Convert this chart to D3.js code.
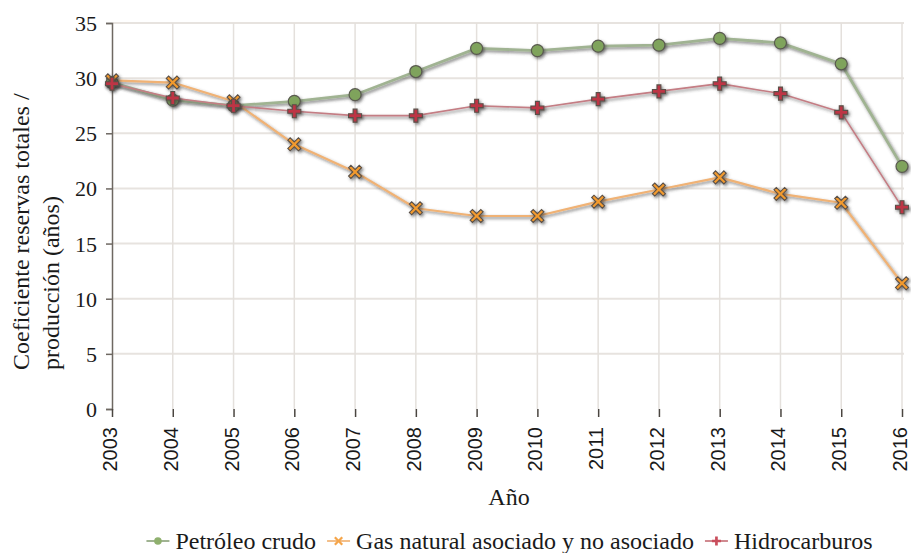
<!DOCTYPE html>
<html>
<head>
<meta charset="utf-8">
<script src="https://cdn.jsdelivr.net/npm/d3@7"></script>
<style>
  html, body { margin: 0; padding: 0; background: #fff; }
  svg { display: block; }
</style>
</head>
<body>
<svg id="chart" width="911" height="553"></svg>
<script>
const years = [2003, 2004, 2005, 2006, 2007, 2008, 2009, 2010, 2011, 2012, 2013, 2014, 2015, 2016];
const petroleo = [29.6, 28.0, 27.5, 27.9, 28.5, 30.6, 32.7, 32.5, 32.9, 33.0, 33.6, 33.2, 31.3, 22.0];
const gas = [29.8, 29.6, 27.9, 24.0, 21.5, 18.2, 17.5, 17.5, 18.8, 19.9, 21.0, 19.5, 18.7, 11.4];
const hidro = [29.5, 28.2, 27.5, 27.0, 26.6, 26.6, 27.5, 27.3, 28.1, 28.8, 29.5, 28.6, 26.9, 18.3];
const yTicks = [0, 5, 10, 15, 20, 25, 30, 35];
const seriesNames = ["Petróleo crudo", "Gas natural asociado y no asociado", "Hidrocarburos"];
const yTitleLines = ["Coeficiente reservas totales /", "producción (años)"];
const xTitle = "Año";

const SERIF = '"Liberation Serif", "Times New Roman", Times, serif';
const SANS = '"Liberation Sans", Arial, sans-serif';

const svg = d3.select("#chart");
const L = 112, R = 902, T = 23, B = 409;

const x = d3.scaleLinear().domain([years[0], years[years.length - 1]]).range([L, R]);
const y = d3.scaleLinear().domain([0, 35]).range([B, T]);

const defs = svg.append("defs");
const f = defs.append("filter").attr("id", "shadow").attr("x", "-20%").attr("y", "-20%").attr("width", "140%").attr("height", "140%");
f.append("feDropShadow").attr("dx", 1.5).attr("dy", 1.8).attr("stdDeviation", 1.5).attr("flood-color", "#3a3a3a").attr("flood-opacity", 0.65);

// gridlines
const grid = svg.append("g");
grid.selectAll("line.h").data(yTicks.filter(d => d > 0)).join("line")
  .attr("x1", L).attr("x2", R + 2).attr("y1", d => y(d)).attr("y2", d => y(d))
  .attr("stroke", "#e7e3df").attr("stroke-width", 2);
grid.selectAll("line.v").data(years.slice(1)).join("line")
  .attr("x1", d => x(d)).attr("x2", d => x(d)).attr("y1", T).attr("y2", B)
  .attr("stroke", "#e4e0dc").attr("stroke-width", 1.5);

// axes
const yAxis = d3.axisLeft(y).tickValues(yTicks).tickSize(6).tickPadding(9);
const gy = svg.append("g").attr("transform", `translate(${L},0)`).call(yAxis);
gy.select(".domain").attr("stroke", "#6e6862").attr("stroke-width", 1.5);
gy.selectAll(".tick line").attr("stroke", "#6e6862").attr("stroke-width", 1.5);
gy.selectAll(".tick text").style("font-family", SERIF).style("font-size", "22px")
  .attr("fill", "#1a1a1a").attr("dy", "0.34em");

const xAxis = d3.axisBottom(x).tickValues(years).tickFormat(d3.format("d")).tickSize(8).tickSizeOuter(0);
const gx = svg.append("g").attr("transform", `translate(0,${B})`).call(xAxis);
gx.select(".domain").attr("stroke", "#6e6862").attr("stroke-width", 2).attr("filter", "url(#shadow)");
gx.selectAll(".tick line").attr("stroke", "#4a4540").attr("stroke-width", 1.5);
gx.selectAll(".tick text").style("font-family", SANS).style("font-size", "20px")
  .attr("fill", "#1a1a1a")
  .attr("text-anchor", "end").attr("y", 0).attr("dy", 0)
  .attr("transform", "translate(4.5,18) rotate(-90)");

// lines
const styles = [
  { data: petroleo, line: "#a0b392", width: 2.8, fill: "#7fa35c", shape: "circle" },
  { data: gas, line: "#f0b274", width: 2.2, fill: "#f29a2e", shape: "x" },
  { data: hidro, line: "#c47d84", width: 1.6, fill: "#bd3445", shape: "plus" }
];

const lineGen = d3.line().x((d, i) => x(years[i])).y(d => y(d));

function markerPath(shape, s) {
  if (shape === "x") {
    const a = s * 0.5, b = s * 0.18;
    const pts = [[0,-b],[a-b,-a],[a,-a+b],[b,0],[a,a-b],[a-b,a],[0,b],[-a+b,a],[-a,a-b],[-b,0],[-a,-a+b],[-a+b,-a]];
    return "M" + pts.map(q => q.join(",")).join("L") + "Z";
  } else if (shape === "plus") {
    const a = s * 0.5, b = s * 0.15;
    const pts = [[-b,-a],[b,-a],[b,-b],[a,-b],[a,b],[b,b],[b,a],[-b,a],[-b,b],[-a,b],[-a,-b],[-b,-b]];
    return "M" + pts.map(q => q.join(",")).join("L") + "Z";
  }
  return null;
}

styles.forEach(st => {
  svg.append("path").datum(st.data).attr("d", lineGen)
    .attr("fill", "none").attr("stroke", st.line).attr("stroke-width", st.width)
    .attr("stroke-linejoin", "round").attr("filter", "url(#shadow)");
});
styles.forEach(st => {
  const g = svg.append("g").attr("filter", "url(#shadow)");
  st.data.forEach((v, i) => {
    if (st.shape === "circle") {
      g.append("circle").attr("cx", x(years[i])).attr("cy", y(v)).attr("r", 6)
        .attr("fill", st.fill).attr("stroke", "#5a5a50").attr("stroke-width", 1.2);
    } else {
      g.append("path").attr("d", markerPath(st.shape, 13))
        .attr("transform", `translate(${x(years[i])},${y(v)})`)
        .attr("fill", st.fill).attr("stroke", "#5a5048").attr("stroke-width", 1.1);
    }
  });
});

// y title
const yt = svg.append("text").style("font-family", SERIF).style("font-size", "24px").attr("fill", "#1a1a1a")
  .attr("transform", "translate(29,370) rotate(-90)").attr("text-anchor", "start");
yTitleLines.forEach((t, i) => {
  yt.append("tspan").attr("x", 0).attr("y", i * 30).text(t);
});

// x title
svg.append("text").style("font-family", SERIF).style("font-size", "24px").attr("fill", "#1a1a1a")
  .attr("x", (L + R) / 2 + 2).attr("y", 505).attr("text-anchor", "middle").text(xTitle);

// legend
const legend = svg.append("g");
const legendColors = [
  { line: "#a0b392", fill: "#8fb06e" },
  { line: "#f3bf8a", fill: "#f5a54a" },
  { line: "#d08a90", fill: "#c94e5c" }
];
let items = [];
seriesNames.forEach((name, i) => {
  const g = legend.append("g");
  g.append("line").attr("x1", 0).attr("x2", 23).attr("y1", 0).attr("y2", 0)
    .attr("stroke", legendColors[i].line).attr("stroke-width", 2);
  if (styles[i].shape === "circle") {
    g.append("circle").attr("cx", 11.5).attr("cy", 0).attr("r", 3.8).attr("fill", legendColors[i].fill);
  } else {
    g.append("path").attr("d", markerPath(styles[i].shape, 9)).attr("transform", "translate(11.5,0)")
      .attr("fill", legendColors[i].fill);
  }
  const t = g.append("text").style("font-family", SERIF).style("font-size", "24px").attr("fill", "#1a1a1a")
    .attr("x", 29).attr("y", 0).attr("dy", "0.33em").text(name);
  items.push({ g, w: 29 + t.node().getComputedTextLength() });
});
const gap = 11;
const total = d3.sum(items, d => d.w) + gap * (items.length - 1);
let cx = 509.5 - total / 2;
items.forEach(it => {
  it.g.attr("transform", `translate(${cx},541)`);
  cx += it.w + gap;
});
</script>
</body>
</html>
